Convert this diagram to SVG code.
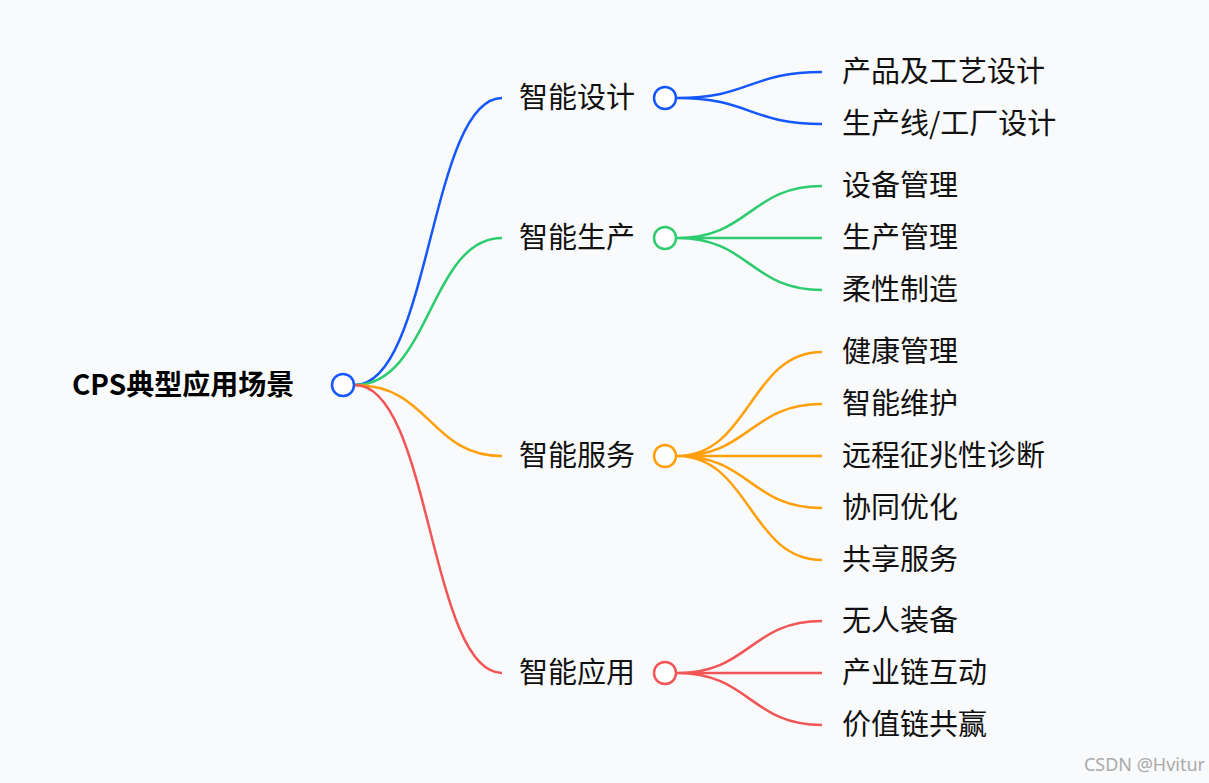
<svg xmlns="http://www.w3.org/2000/svg" width="1209" height="783" viewBox="0 0 1209 783">
<style>
.l{fill:none;stroke-width:2.5}
.t{font-family:"Noto Sans CJK SC","Noto Sans",sans-serif;font-size:29px;fill:#111}
.r{font-family:"Noto Sans CJK SC","Noto Sans",sans-serif;font-size:28px;font-weight:bold;fill:#000}
.c{fill:#fff;stroke-width:2.5}
.b{stroke:#1557ff}.g{stroke:#2ecc71}.o{stroke:#ff9f0a}.d{stroke:#f25555}
</style>
<rect width="1209" height="783" fill="#f9fafb"/>
<g id="connectors">
<path class="l b" d="M355,385 C430,385 430,98 502,98"/>
<path class="l g" d="M355,385 C430,385 430,238 502,238"/>
<path class="l o" d="M355,385 C430,385 430,456 502,456"/>
<path class="l d" d="M355,385 C430,385 430,673 502,673"/>
<path class="l b" d="M677,98 C750,98 750,72 822,72 M677,98 C750,98 750,124 822,124"/>
<path class="l g" d="M677,238 C750,238 750,186 822,186 M677,238 L822,238 M677,238 C750,238 750,290 822,290"/>
<path class="l o" d="M677,456 C750,456 750,352 822,352 M677,456 C750,456 750,404 822,404 M677,456 L822,456 M677,456 C750,456 750,508 822,508 M677,456 C750,456 750,560 822,560"/>
<path class="l d" d="M677,673 C750,673 750,621 822,621 M677,673 L822,673 M677,673 C750,673 750,725 822,725"/>
</g>
<g id="root"><text class="r" x="72" y="395">CPS典型应用场景</text><circle class="c b" cx="343" cy="385" r="11"/></g>
<g id="n1"><text class="t" x="519" y="108">智能设计</text><circle class="c b" cx="665" cy="98" r="11"/></g>
<g id="n2"><text class="t" x="519" y="248">智能生产</text><circle class="c g" cx="665" cy="238" r="11"/></g>
<g id="n3"><text class="t" x="519" y="466">智能服务</text><circle class="c o" cx="665" cy="456" r="11"/></g>
<g id="n4"><text class="t" x="519" y="683">智能应用</text><circle class="c d" cx="665" cy="673" r="11"/></g>
<g id="leaves">
<text class="t" x="842" y="82">产品及工艺设计</text>
<text class="t" x="842" y="134">生产线/工厂设计</text>
<text class="t" x="842" y="196">设备管理</text>
<text class="t" x="842" y="248">生产管理</text>
<text class="t" x="842" y="300">柔性制造</text>
<text class="t" x="842" y="362">健康管理</text>
<text class="t" x="842" y="414">智能维护</text>
<text class="t" x="842" y="466">远程征兆性诊断</text>
<text class="t" x="842" y="518">协同优化</text>
<text class="t" x="842" y="570">共享服务</text>
<text class="t" x="842" y="631">无人装备</text>
<text class="t" x="842" y="683">产业链互动</text>
<text class="t" x="842" y="735">价值链共赢</text>
</g>
<text x="1205" y="771" text-anchor="end" font-family="Noto Sans, sans-serif" font-size="18" fill="#aaa">CSDN @Hvitur</text>
</svg>
